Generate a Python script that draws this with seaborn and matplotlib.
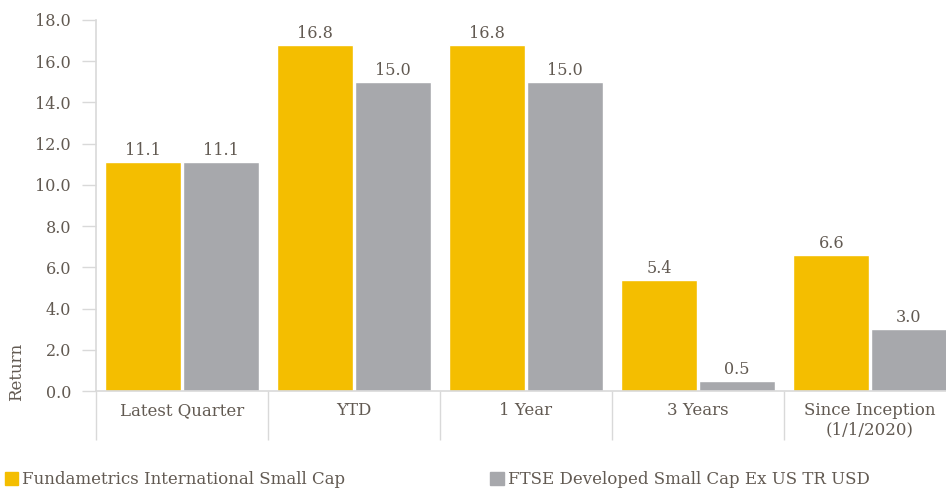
import pandas as pd
import numpy as np
import matplotlib.pyplot as plt
import seaborn as sns
from matplotlib.patches import Patch
from matplotlib.ticker import FixedLocator

# Data
categories = ['Latest Quarter', 'YTD', '1 Year', '3 Years', 'Since Inception\n(1/1/2020)']
series_names = ['Fundametrics International Small Cap', 'FTSE Developed Small Cap Ex US TR USD']
fund_returns = [11.1, 16.8, 16.8, 5.4, 6.6]
bench_returns = [11.1, 15.0, 15.0, 0.5, 3.0]
y_ticks = [0, 2, 4, 6, 8, 10, 12, 14, 16, 18]

colors = ['#F4BE00', '#A7A8AC']
text_color = '#625a52'
line_color = '#D9D9D9'

df = pd.DataFrame({
    'Period': categories * 2,
    'Series': [series_names[0]] * 5 + [series_names[1]] * 5,
    'Return': fund_returns + bench_returns,
})

sns.set_theme(style='white')
plt.rcParams['font.family'] = ['DejaVu Serif']

fig = plt.figure(figsize=(9.46, 4.90), dpi=100)
ax = fig.add_axes([96 / 946, 99 / 490, 860 / 946, 371 / 490])

sns.barplot(data=df, x='Period', y='Return', hue='Series', palette=colors,
            width=0.9, gap=0.02, saturation=1, legend=False, ax=ax)

for cont in ax.containers:
    ax.bar_label(cont, fmt='%.1f', padding=2, fontsize=11.5, color=text_color)

ax.set_ylim(0, 18)
ax.set_xlim(-0.5, len(categories) - 0.5)
ax.set_yticks(y_ticks)
ax.set_yticklabels([f'{v:.1f}' for v in y_ticks], fontsize=11.5, color=text_color)
ax.tick_params(axis='y', length=10, width=1, color=line_color, left=True, pad=8)
ax.tick_params(axis='x', which='major', length=0, labelsize=12, labelcolor=text_color, pad=8)
ax.xaxis.set_minor_locator(FixedLocator(np.arange(-0.5, len(categories), 1)))
ax.tick_params(axis='x', which='minor', length=35, width=1, color=line_color, bottom=True)

ax.set_xlabel('')
ax.set_ylabel('')
fig.text(17 / 946, 1 - 372 / 490, 'Return', rotation=90, ha='center', va='center',
         fontsize=12, color=text_color)

for side in ['top', 'right']:
    ax.spines[side].set_visible(False)
for side in ['left', 'bottom']:
    ax.spines[side].set_color(line_color)
    ax.spines[side].set_linewidth(1.2)

handles = [Patch(color=c, label=n) for c, n in zip(colors, series_names)]
fig.legend(handles=handles, loc='upper left', bbox_to_anchor=(-0.002, 0.052), ncol=2,
           frameon=False, fontsize=12, handlelength=0.8, handleheight=0.8,
           handletextpad=0.25, columnspacing=8.7, labelcolor=text_color, borderaxespad=0)

fig.savefig('out.png', dpi=100)
